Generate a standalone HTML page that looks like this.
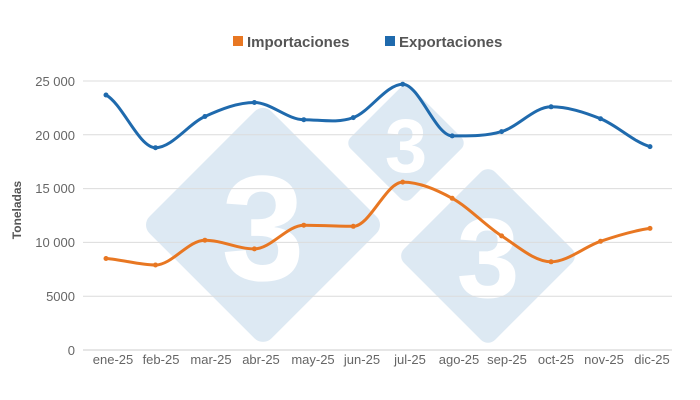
<!DOCTYPE html>
<html><head><meta charset="utf-8"><style>
html,body{margin:0;padding:0;background:#fff;}
svg{display:block;font-family:"Liberation Sans",Arial,sans-serif;}
</style></head><body>
<svg width="700" height="400" viewBox="0 0 700 400">
<g fill="#dde9f3">
<rect x="176.7" y="138.7" width="172.5" height="172.5" rx="12" transform="rotate(45 263 225)"/>
<rect x="362.9" y="99.9" width="86.3" height="86.3" rx="8" transform="rotate(45 406 143)"/>
<rect x="423.6" y="191.6" width="128.7" height="128.7" rx="10" transform="rotate(45 488 256)"/>
</g>
<g fill="#fff" font-weight="bold" text-anchor="middle">
<text x="263" y="280" font-size="150">3</text>
<text x="406" y="172" font-size="76">3</text>
<text x="488" y="297" font-size="113">3</text>
</g>
<g stroke="#dcdcdc" stroke-width="1">
<line x1="83" y1="81" x2="672" y2="81"/>
<line x1="83" y1="134.8" x2="672" y2="134.8"/>
<line x1="83" y1="188.6" x2="672" y2="188.6"/>
<line x1="83" y1="242.4" x2="672" y2="242.4"/>
<line x1="83" y1="296.2" x2="672" y2="296.2"/>
<line x1="83" y1="350" x2="672" y2="350" stroke="#ccc"/>
</g>
<g fill="#666" font-size="13" text-anchor="end">
<text x="75" y="86">25 000</text>
<text x="75" y="140">20 000</text>
<text x="75" y="193">15 000</text>
<text x="75" y="247">10 000</text>
<text x="75" y="301">5000</text>
<text x="75" y="355">0</text>
</g>
<text transform="translate(21 210) rotate(-90)" fill="#555" font-size="12" font-weight="bold" text-anchor="middle">Toneladas</text>
<g fill="#666" font-size="13" text-anchor="middle">
<text x="113" y="364">ene-25</text><text x="161" y="364">feb-25</text><text x="211" y="364">mar-25</text><text x="261" y="364">abr-25</text><text x="313" y="364">may-25</text><text x="362" y="364">jun-25</text><text x="410" y="364">jul-25</text><text x="459" y="364">ago-25</text><text x="507" y="364">sep-25</text><text x="556" y="364">oct-25</text><text x="604" y="364">nov-25</text><text x="652" y="364">dic-25</text>
</g>
<rect x="233" y="36" width="10" height="10" fill="#e87722"/>
<text x="247" y="47" font-size="15" font-weight="bold" fill="#555">Importaciones</text>
<rect x="385" y="36" width="10" height="10" fill="#1f6aad"/>
<text x="399" y="47" font-size="15" font-weight="bold" fill="#555">Exportaciones</text>

<path fill="none" stroke="#e87722" stroke-width="3" d="M106,258.5 C122.5,259.6 139,265 155.5,265 C172,265 188.4,240.2 204.9,240.2 C221.4,240.2 237.9,248.9 254.4,248.9 C270.9,248.9 287.3,225.2 303.8,225.2 C320.3,225.2 336.8,226.3 353.3,226.3 C369.8,226.3 386.2,182.1 402.7,182.1 C419.2,182.1 435.7,189.3 452.2,198.3 C468.7,207.3 485.1,225.3 501.6,235.9 C518.1,246.5 534.6,261.8 551.1,261.8 C567.6,261.8 584,246.9 600.5,241.3 C617,235.7 633.5,230.6 650,228.4"/>
<g fill="#e87722">
<circle cx="106" cy="258.5" r="2.5"/><circle cx="155.5" cy="265" r="2.5"/><circle cx="204.9" cy="240.2" r="2.5"/><circle cx="254.4" cy="248.9" r="2.5"/><circle cx="303.8" cy="225.2" r="2.5"/><circle cx="353.3" cy="226.3" r="2.5"/><circle cx="402.7" cy="182.1" r="2.5"/><circle cx="452.2" cy="198.3" r="2.5"/><circle cx="501.6" cy="235.9" r="2.5"/><circle cx="551.1" cy="261.8" r="2.5"/><circle cx="600.5" cy="241.3" r="2.5"/><circle cx="650" cy="228.4" r="2.5"/>
</g>
<path fill="none" stroke="#1f6aad" stroke-width="3" d="M106,95 C122.5,103.8 139,147.7 155.5,147.7 C172,147.7 188.4,124 204.9,116.5 C221.4,109 237.9,102.5 254.4,102.5 C270.9,102.5 287.3,119.7 303.8,119.7 C320.3,119.7 336.8,123.5 353.3,117.6 C369.8,111.7 386.2,84.2 402.7,84.2 C419.2,84.2 435.7,135.9 452.2,135.9 C468.7,135.9 485.1,136.5 501.6,131.6 C518.1,126.7 534.6,106.8 551.1,106.8 C567.6,106.8 584,112.1 600.5,118.7 C617,125.3 633.5,142 650,146.6"/>
<g fill="#1f6aad">
<circle cx="106" cy="95" r="2.5"/><circle cx="155.5" cy="147.7" r="2.5"/><circle cx="204.9" cy="116.5" r="2.5"/><circle cx="254.4" cy="102.5" r="2.5"/><circle cx="303.8" cy="119.7" r="2.5"/><circle cx="353.3" cy="117.6" r="2.5"/><circle cx="402.7" cy="84.2" r="2.5"/><circle cx="452.2" cy="135.9" r="2.5"/><circle cx="501.6" cy="131.6" r="2.5"/><circle cx="551.1" cy="106.8" r="2.5"/><circle cx="600.5" cy="118.7" r="2.5"/><circle cx="650" cy="146.6" r="2.5"/>
</g>
</svg>
</body></html>
